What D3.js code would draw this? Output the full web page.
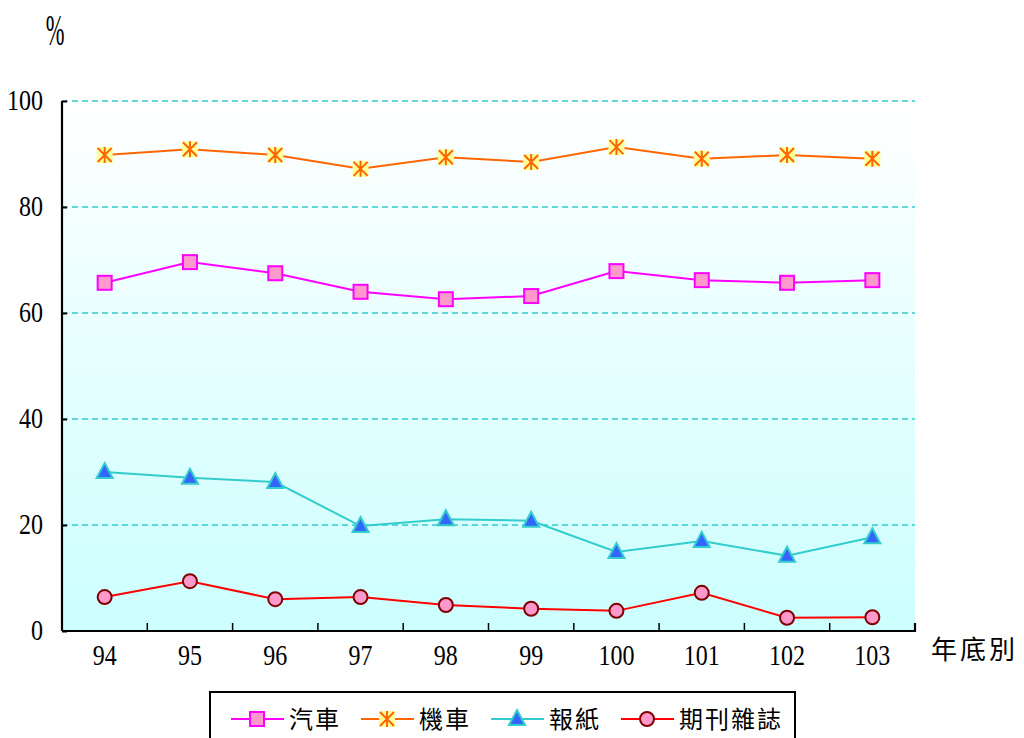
<!DOCTYPE html>
<html><head><meta charset="utf-8">
<script src="https://cdn.jsdelivr.net/npm/d3@7"></script>
<style>body{margin:0;background:#fff}svg{display:block}</style>
</head><body>
<script>
const categories = ["94","95","96","97","98","99","100","101","102","103"];
const car = [65.7,69.6,67.5,64.0,62.6,63.2,67.9,66.2,65.7,66.2];
const motorcycle = [89.8,90.9,89.8,87.2,89.4,88.5,91.3,89.1,89.8,89.1];
const newspaper = [30.0,28.9,28.1,19.8,21.1,20.8,14.9,17.0,14.2,17.7];
const magazine = [6.4,9.4,6.0,6.4,4.9,4.2,3.8,7.2,2.5,2.6];
const yTicks = [0,20,40,60,80,100];
const seriesNames = ["汽車","機車","報紙","期刊雜誌"];

const W=1024,H=738;
const svg=d3.select("body").append("svg").attr("width",W).attr("height",H);
const L=62,R=915,T=101,B=631;
const x=d3.scaleBand().domain(categories).range([L,R]);
const y=d3.scaleLinear().domain([0,100]).range([B,T]);
const serif="'Liberation Serif','DejaVu Serif','Times New Roman',serif";
const cjk="'Noto Sans CJK TC','Noto Sans CJK SC',sans-serif";

const defs=svg.append("defs");
const g=defs.append("linearGradient").attr("id","bg").attr("x1",0).attr("y1",0).attr("x2",0).attr("y2",1);
g.append("stop").attr("offset","0%").attr("stop-color","#ffffff");
g.append("stop").attr("offset","100%").attr("stop-color","#ccffff");
svg.append("rect").attr("x",L).attr("y",T).attr("width",R-L).attr("height",B-T).attr("fill","url(#bg)");

// grid
svg.append("g").selectAll("line").data(yTicks.filter(d=>d>0)).join("line")
 .attr("x1",L).attr("x2",R).attr("y1",d=>y(d)).attr("y2",d=>y(d))
 .attr("stroke","#33cccc").attr("stroke-width",1.3).attr("stroke-dasharray","6,4");

// y axis
const ya=svg.append("g").attr("transform",`translate(${L},0)`)
 .call(d3.axisLeft(y).tickValues(yTicks).tickSize(-5).tickPadding(19));
ya.select(".domain").attr("stroke","#000").attr("stroke-width",2.2).attr("d",`M0,${T}V${B}`);
ya.selectAll(".tick line").attr("stroke","#000").attr("stroke-width",2);
ya.selectAll("text").attr("font-family",serif).attr("font-size",24).attr("fill","#000")
 .attr("dy","0.3em").attr("transform","scale(1,1.2)");

// x axis
const xa=svg.append("g").attr("transform",`translate(0,${B})`)
 .call(d3.axisBottom(x).tickSize(0).tickPadding(11));
xa.select(".domain").attr("stroke","#000").attr("stroke-width",2.2).attr("d",`M${L},0H${R}V-8`);
xa.selectAll("text").attr("font-family",serif).attr("font-size",24).attr("fill","#000")
 .attr("transform","scale(1,1.2)");
svg.append("g").selectAll("line").data(categories.slice(1)).join("line")
 .attr("x1",d=>x(d)).attr("x2",d=>x(d)).attr("y1",B).attr("y2",B-8)
 .attr("stroke","#000").attr("stroke-width",1.5);

svg.append("text").attr("transform","translate(55,45) scale(0.75,1.5)").attr("text-anchor","middle")
 .attr("font-family",serif).attr("font-size",30).text("%");
svg.append("text").attr("x",931).attr("y",659).attr("font-family",cjk).attr("font-size",26)
 .attr("letter-spacing",3).text("年底別");

const cx=i=>x(categories[i])+x.bandwidth()/2;
const line=d3.line().x((d,i)=>cx(i)).y(d=>y(d));

const styles=[
 {data:car,color:"#ff00ff",marker:"square"},
 {data:motorcycle,color:"#ff6600",marker:"star"},
 {data:newspaper,color:"#33cccc",marker:"tri"},
 {data:magazine,color:"#ff0000",marker:"circle"}];

function drawMarker(sel,type){
 if(type==="square"){
  sel.append("rect").attr("x",-7).attr("y",-7).attr("width",14).attr("height",14)
   .attr("fill","#ff99cc").attr("stroke","#ff00ff").attr("stroke-width",2);
 } else if(type==="star"){
  sel.append("rect").attr("x",-8).attr("y",-8).attr("width",16).attr("height",16).attr("fill","#ffff99");
  sel.append("path").attr("d","M-7,-7L7,7M-7,7L7,-7M0,-8V8")
   .attr("stroke","#ff6600").attr("stroke-width",2);
 } else if(type==="tri"){
  sel.append("path").attr("d","M0,-9L8,6H-8Z").attr("fill","#3366ff")
   .attr("stroke","#33cccc").attr("stroke-width",2).attr("stroke-linejoin","miter");
 } else {
  sel.append("circle").attr("r",7).attr("fill","#ff99cc").attr("stroke","#800000").attr("stroke-width",2);
 }
}

styles.forEach(s=>{
 svg.append("path").datum(s.data).attr("d",line).attr("fill","none")
  .attr("stroke",s.color).attr("stroke-width",2);
 svg.append("g").selectAll("g").data(s.data).join("g")
  .attr("transform",(d,i)=>`translate(${cx(i)},${y(d)})`)
  .each(function(){drawMarker(d3.select(this),s.marker);});
});

// legend
svg.append("rect").attr("x",210).attr("y",692).attr("width",585).attr("height",60)
 .attr("fill","#fff").attr("stroke","#000").attr("stroke-width",2);
const lx=[231,361,491,621];
styles.forEach((s,i)=>{
 const lg=svg.append("g").attr("transform",`translate(${lx[i]},719)`);
 lg.append("line").attr("x1",0).attr("x2",53).attr("stroke",s.color).attr("stroke-width",2);
 const m=lg.append("g").attr("transform","translate(26,0)");
 drawMarker(m,s.marker);
 lg.append("text").attr("x",58).attr("y",9).attr("font-family",cjk).attr("font-size",24)
  .attr("letter-spacing",2).text(seriesNames[i]);
});
</script>
</body></html>
